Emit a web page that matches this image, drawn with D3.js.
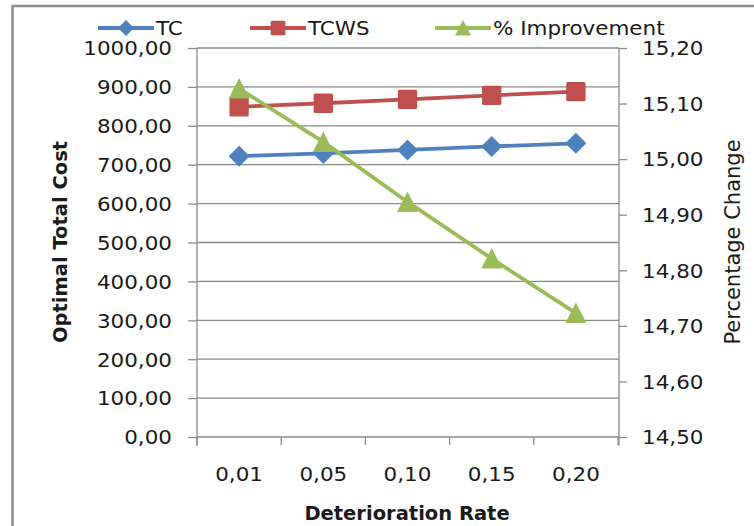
<!DOCTYPE html>
<html>
<head>
<meta charset="utf-8">
<script src="https://cdn.jsdelivr.net/npm/d3@7"></script>
<style>
  html, body { margin: 0; padding: 0; background: #fff; }
  svg { display: block; }
  text { font-family: "DejaVu Sans", sans-serif; fill: #1a1a1a; }
</style>
</head>
<body>
<svg id="chart" width="754" height="526"></svg>
<script>
// ---- data ----
const categories = ["0,01", "0,05", "0,10", "0,15", "0,20"];
const tcValues   = [722, 729, 738, 747, 755];
const tcwsValues = [849, 858, 868, 878, 888];
const improvementValues = [15.127, 15.031, 14.923, 14.821, 14.723];
const leftTicks  = [0, 100, 200, 300, 400, 500, 600, 700, 800, 900, 1000];
const rightTicks = [14.5, 14.6, 14.7, 14.8, 14.9, 15.0, 15.1, 15.2];
const seriesNames = ["TC", "TCWS", "% Improvement"];

// ---- layout ----
const W = 754, H = 526;
const plot = { left: 197, right: 618, top: 48, bottom: 437 };
const colors = { TC: "#4F81BD", TCWS: "#C0504D", "% Improvement": "#9BBB59" };
const gridColor = "#8a8a8a";
const sx = 1.13; // horizontal text stretch

const svg = d3.select("#chart");

// frame
svg.append("path")
  .attr("d", `M12.5,${H} L12.5,6 L${W},6`)
  .attr("fill", "none").attr("stroke", "#8c8c8c").attr("stroke-width", 2.5);

const x = d3.scaleBand().domain(categories).range([plot.left, plot.right]);
const yL = d3.scaleLinear().domain([0, 1000]).range([plot.bottom, plot.top]);
const yR = d3.scaleLinear().domain([14.5, 15.2]).range([plot.bottom, plot.top]);
const fmt = v => d3.format(".2f")(v).replace(".", ",");

// gridlines
svg.append("g").selectAll("line").data(leftTicks).join("line")
  .attr("x1", plot.left).attr("x2", plot.right + 1)
  .attr("y1", d => yL(d)).attr("y2", d => yL(d))
  .attr("stroke", gridColor).attr("stroke-width", 1.3);

// left axis
const gL = svg.append("g").attr("transform", `translate(${plot.left},0)`)
  .call(d3.axisLeft(yL).tickValues(leftTicks).tickFormat(fmt).tickSize(9).tickSizeOuter(0));
gL.select(".domain").remove();
gL.selectAll(".tick line").attr("stroke", gridColor).attr("stroke-width", 1.3);
gL.selectAll(".tick text")
  .attr("x", 0).attr("dy", "0.36em")
  .attr("transform", `translate(-25,0) scale(${sx},1)`)
  .style("font-size", "19px").style("font-family", "DejaVu Sans").attr("fill", "#1a1a1a");
svg.append("line").attr("x1", plot.left).attr("x2", plot.left)
  .attr("y1", plot.top).attr("y2", plot.bottom + 9)
  .attr("stroke", gridColor).attr("stroke-width", 1.3);

// right axis
const gR = svg.append("g").attr("transform", `translate(${plot.right + 1},0)`)
  .call(d3.axisRight(yR).tickValues(rightTicks).tickFormat(fmt).tickSize(8).tickSizeOuter(0));
gR.select(".domain").remove();
gR.selectAll(".tick line").attr("stroke", gridColor).attr("stroke-width", 1.3);
gR.selectAll(".tick text")
  .attr("x", 0).attr("dy", "0.36em")
  .attr("transform", `translate(23,0) scale(${sx},1)`)
  .style("font-size", "19px").style("font-family", "DejaVu Sans").attr("fill", "#1a1a1a");
svg.append("line").attr("x1", plot.right + 1).attr("x2", plot.right + 1)
  .attr("y1", plot.top).attr("y2", plot.bottom + 9)
  .attr("stroke", gridColor).attr("stroke-width", 1.3);

// bottom axis (labels at band centers, ticks at band edges)
const gB = svg.append("g").attr("transform", `translate(0,${plot.bottom})`)
  .call(d3.axisBottom(x).tickSize(0));
gB.select(".domain").remove();
gB.selectAll(".tick text")
  .attr("y", 0).attr("dy", 0)
  .attr("transform", `translate(0,44) scale(${sx},1)`)
  .style("font-size", "19px").style("font-family", "DejaVu Sans").attr("fill", "#1a1a1a");
const edges = categories.map(c => x(c)).concat([x(categories[categories.length - 1]) + x.bandwidth()]);
svg.append("g").selectAll("line").data(edges).join("line")
  .attr("x1", d => d).attr("x2", d => d)
  .attr("y1", plot.bottom).attr("y2", plot.bottom + 8)
  .attr("stroke", gridColor).attr("stroke-width", 1.3);

// axis titles
svg.append("text")
  .attr("transform", `translate(67,242) rotate(-90)`)
  .attr("text-anchor", "middle")
  .style("font-size", "19.5px").style("font-weight", "bold")
  .text("Optimal Total Cost");
svg.append("text")
  .attr("transform", `translate(740,242) rotate(-90)`)
  .attr("text-anchor", "middle")
  .style("font-size", "21px")
  .text("Percentage Change");
svg.append("text")
  .attr("x", 407).attr("y", 520)
  .attr("text-anchor", "middle")
  .style("font-size", "19.5px").style("font-weight", "bold")
  .text("Deterioration Rate");

// markers
function marker(sel, type, size, color) {
  const h = size / 2;
  if (type === "diamond") {
    sel.append("path").attr("d", `M0,${-h}L${h},0L0,${h}L${-h},0Z`).attr("fill", color);
  } else if (type === "square") {
    const s = size * 0.92;
    sel.append("rect").attr("x", -s / 2).attr("y", -s / 2).attr("width", s).attr("height", s)
      .attr("rx", 1.5).attr("fill", color);
  } else {
    sel.append("path").attr("d", `M0,${-h}L${h},${h * 0.95}L${-h},${h * 0.95}Z`).attr("fill", color);
  }
}

const series = [
  { name: seriesNames[0], values: tcValues, y: yL, type: "diamond" },
  { name: seriesNames[1], values: tcwsValues, y: yL, type: "square" },
  { name: seriesNames[2], values: improvementValues, y: yR, type: "triangle" }
];

series.forEach(s => {
  const pts = s.values.map((v, i) => [x(categories[i]) + x.bandwidth() / 2, s.y(v)]);
  svg.append("path").attr("d", d3.line()(pts))
    .attr("fill", "none").attr("stroke", colors[s.name]).attr("stroke-width", 3.8)
    .attr("stroke-linejoin", "round");
  pts.forEach(p => {
    const g = svg.append("g").attr("transform", `translate(${p[0]},${p[1]})`);
    marker(g, s.type, 21, colors[s.name]);
  });
});

// legend
const legendX = [98, 250, 435];
const legendY = 28;
series.forEach((s, i) => {
  const g = svg.append("g").attr("transform", `translate(${legendX[i]},${legendY})`);
  g.append("line").attr("x1", 0).attr("x2", 56).attr("y1", 0).attr("y2", 0)
    .attr("stroke", colors[s.name]).attr("stroke-width", 3.8);
  const m = g.append("g").attr("transform", "translate(28,0)");
  marker(m, s.type, 16, colors[s.name]);
  g.append("text").attr("x", 0).attr("dy", "0.36em")
    .attr("transform", `translate(58,0) scale(${sx},1)`)
    .style("font-size", "19px")
    .text(s.name);
});
</script>
</body>
</html>
